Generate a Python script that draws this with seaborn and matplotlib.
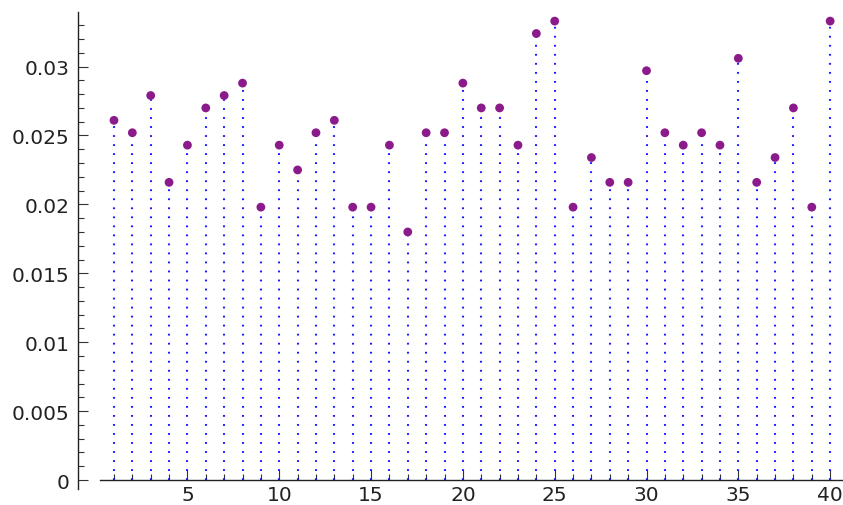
import numpy as np
import pandas as pd
import matplotlib
matplotlib.use("Agg")
import matplotlib.pyplot as plt
import seaborn as sns
from matplotlib.ticker import FixedLocator, MultipleLocator, FuncFormatter

# ── Data ─────────────────────────────────────────────────────────────────────
positions = list(range(1, 41))
values = [0.0261, 0.0252, 0.0279, 0.0216, 0.0243, 0.0270, 0.0279, 0.0288, 0.0198, 0.0243,
          0.0225, 0.0252, 0.0261, 0.0198, 0.0198, 0.0243, 0.0180, 0.0252, 0.0252, 0.0288,
          0.0270, 0.0270, 0.0243, 0.0324, 0.0333, 0.0198, 0.0234, 0.0216, 0.0216, 0.0297,
          0.0252, 0.0243, 0.0252, 0.0243, 0.0306, 0.0216, 0.0234, 0.0270, 0.0198, 0.0333]
xticks_major = [5, 10, 15, 20, 25, 30, 35, 40]

df = pd.DataFrame({"x": positions, "y": values})

# ── Style ────────────────────────────────────────────────────────────────────
sns.set_style("ticks")
plt.rcParams["font.family"] = ["DejaVu Sans"]
plt.rcParams["lines.scale_dashes"] = False

fig = plt.figure(figsize=(8.43, 5.06), dpi=100)
ax = fig.add_axes([0.0925, 0.0316, 0.9075, 0.9427])

# dotted stems from zero up to each point
ax.vlines(df["x"], 0, df["y"], colors="#1a1aff", linewidth=1.5,
          linestyles=[(0, (1.3, 5.2))], zorder=1)
sns.scatterplot(data=df, x="x", y="y", color="#8b1a8b", s=40,
                edgecolor="none", ax=ax, zorder=3)

ax.set_xlim(-0.96, 40.7)
ax.set_ylim(-0.00065, 0.03396)
ax.set_xlabel(""); ax.set_ylabel("")

# Sage-like axes
for side in ("top", "right"):
    ax.spines[side].set_visible(False)
ax.spines["bottom"].set_position(("data", 0))
ax.spines["bottom"].set_bounds(0.24, 40.7)
for side in ("left", "bottom"):
    ax.spines[side].set_linewidth(1.0)
    ax.spines[side].set_color("#222222")

ax.xaxis.set_major_locator(FixedLocator(xticks_major))
ax.xaxis.set_minor_locator(FixedLocator(positions))
ax.yaxis.set_major_locator(MultipleLocator(0.005))
ax.yaxis.set_minor_locator(MultipleLocator(0.001))
ax.yaxis.set_major_formatter(FuncFormatter(lambda v, p: f"{round(v, 6):g}"))

ax.tick_params(which="both", direction="in", width=0.8, color="#333333")
ax.tick_params(which="major", length=7.5, labelsize=14.5, labelcolor="#222222")
ax.tick_params(which="minor", length=4.2)
ax.tick_params(axis="y", which="major", pad=6)
ax.tick_params(axis="x", which="major", pad=3.5)

fig.savefig("out.png", dpi=100)
